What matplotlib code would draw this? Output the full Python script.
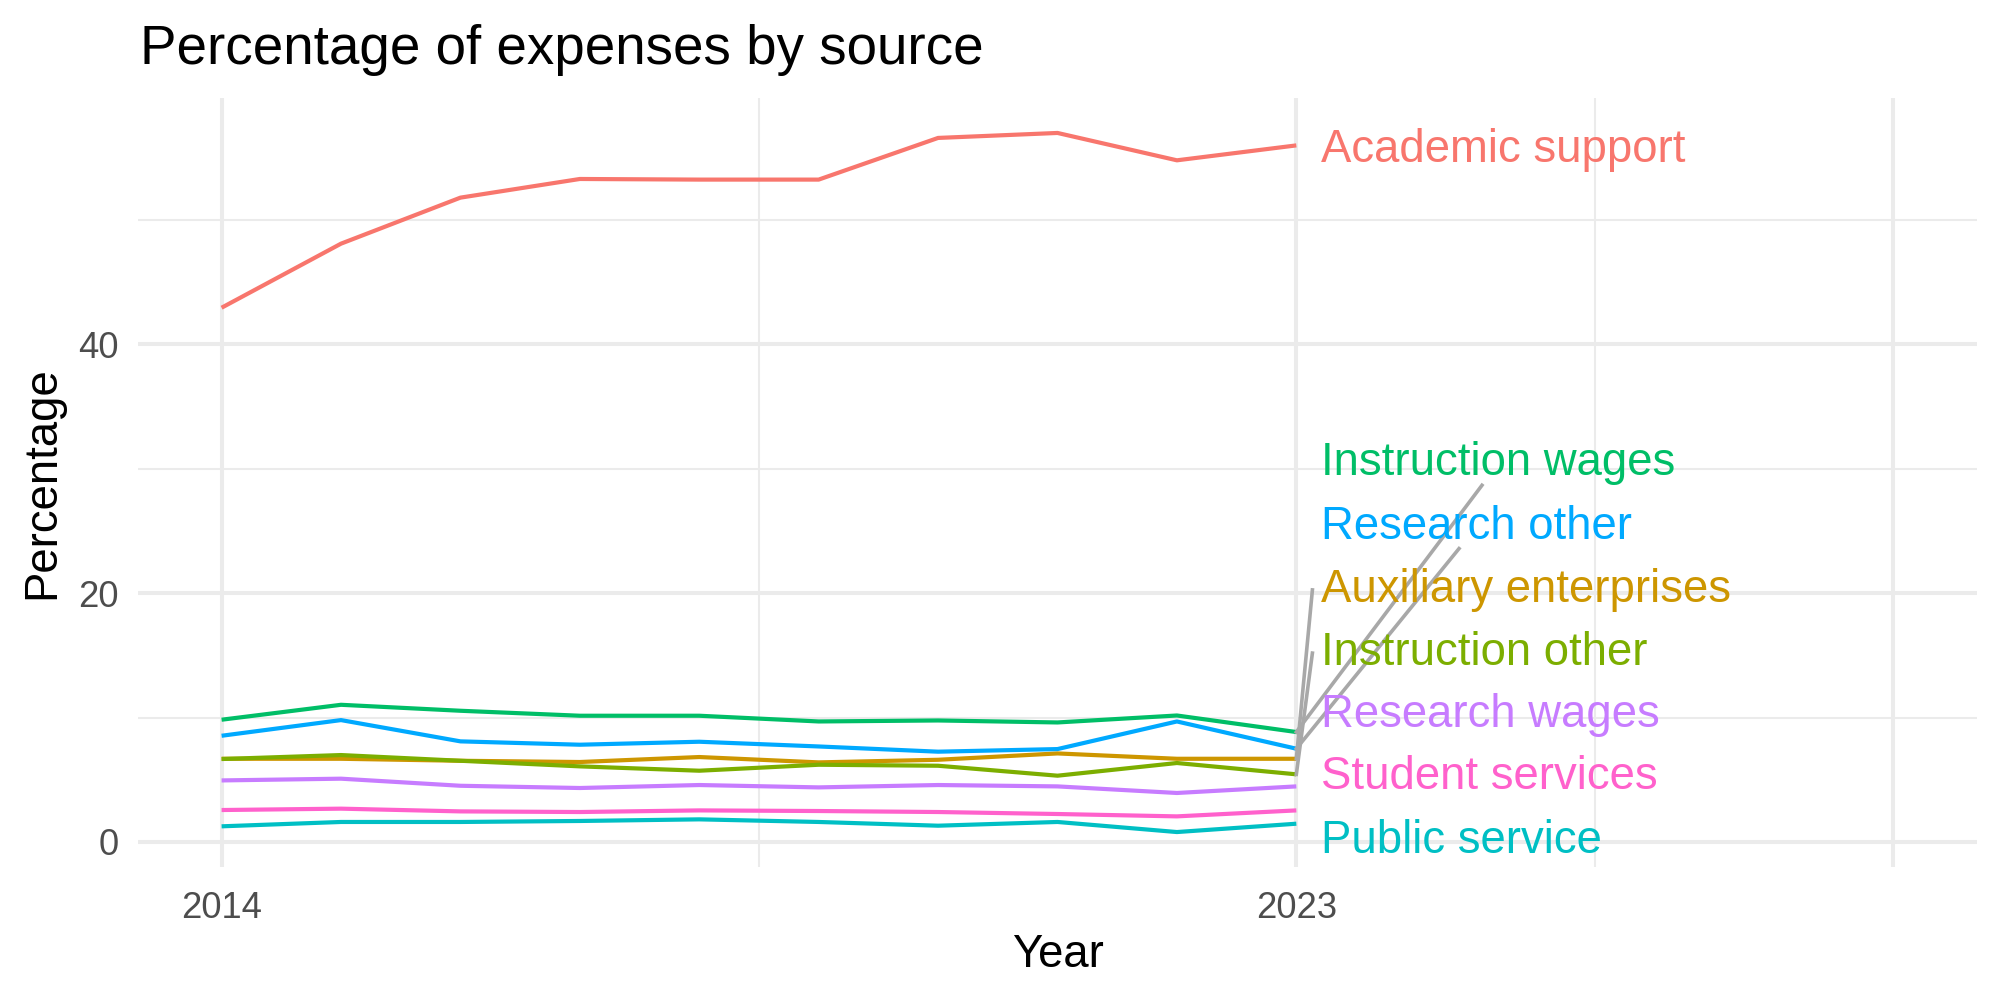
import matplotlib
matplotlib.use("Agg")
import matplotlib.pyplot as plt

plt.rcParams['font.family'] = ['Liberation Sans', 'DejaVu Sans']

# ---------------- data ----------------
years = [2014, 2015, 2016, 2017, 2018, 2019, 2020, 2021, 2022, 2023]
categories = ["Academic support", "Auxiliary enterprises", "Instruction other",
              "Instruction wages", "Public service", "Research other",
              "Research wages", "Student services"]
academic_support = [42.95, 48.1, 51.8, 53.3, 53.25, 53.25, 56.6, 57.0, 54.8, 56.0]
auxiliary_enterprises = [6.69, 6.69, 6.53, 6.43, 6.83, 6.40, 6.61, 7.12, 6.69, 6.69]
instruction_other = [6.67, 6.99, 6.53, 6.08, 5.73, 6.21, 6.13, 5.33, 6.35, 5.44]
instruction_wages = [9.83, 11.03, 10.55, 10.15, 10.15, 9.69, 9.77, 9.61, 10.17, 8.84]
public_service = [1.26, 1.61, 1.61, 1.69, 1.82, 1.61, 1.31, 1.61, 0.80, 1.47]
research_other = [8.54, 9.80, 8.09, 7.82, 8.06, 7.68, 7.26, 7.47, 9.69, 7.50]
research_wages = [4.95, 5.09, 4.52, 4.34, 4.58, 4.39, 4.58, 4.47, 3.94, 4.47]
student_services = [2.57, 2.68, 2.46, 2.41, 2.54, 2.49, 2.41, 2.25, 2.06, 2.54]
series = [academic_support, auxiliary_enterprises, instruction_other,
          instruction_wages, public_service, research_other,
          research_wages, student_services]

x_tick_values = [2014, 2023, 2028]
x_tick_labels = ["2014", "2023", ""]
x_minor_ticks = [2018.5, 2025.5]
y_tick_values = [0, 20, 40]
y_minor_ticks = [10, 30, 50]

# ---------------- layout / style ----------------
colors = ["#F8766D", "#CD9600", "#7CAE00", "#00BE67",
          "#00BFC4", "#00A9FF", "#C77CFF", "#FF61CC"]
# repelled label positions (baseline, in data units) and segment anchors
label_x = 2023.21
label_y = {"Academic support": 54.64, "Instruction wages": 29.48,
           "Research other": 24.39, "Auxiliary enterprises": 19.30,
           "Instruction other": 14.22, "Research wages": 9.26,
           "Student services": 4.23, "Public service": -0.86}
segment_anchor = {"Instruction wages": "bottom", "Research other": "bottom",
                  "Auxiliary enterprises": "left", "Instruction other": "left"}

fig = plt.figure(figsize=(10, 5), dpi=200)
ax = fig.add_axes([138 / 2000, 133 / 1000, (1977 - 138) / 2000, (867 - 98) / 1000])

# limits with ggplot-like 5% expansion
xmin, xmax = min(years), max(x_tick_values)
xr = xmax - xmin
ax.set_xlim(xmin - 0.05 * xr, xmax + 0.05 * xr)
all_vals = [v for s in series for v in s]
ymin, ymax = min(all_vals), max(all_vals)
yr = ymax - ymin
ax.set_ylim(ymin - 0.05 * yr, ymax + 0.05 * yr)

for sp in ax.spines.values():
    sp.set_visible(False)

grid_col = "#EBEBEB"
ax.set_xticks(x_tick_values)
ax.set_xticklabels(x_tick_labels)
ax.set_xticks(x_minor_ticks, minor=True)
ax.set_yticks(y_tick_values)
ax.set_yticks(y_minor_ticks, minor=True)
ax.grid(which="major", color=grid_col, lw=1.45, zorder=0)
ax.grid(which="minor", color=grid_col, lw=0.73, zorder=0)
ax.set_axisbelow(True)
ax.tick_params(which="both", length=0)
ax.tick_params(axis="x", labelsize=13.1, labelcolor="#4D4D4D", pad=8.5)
ax.tick_params(axis="y", labelsize=13.1, labelcolor="#4D4D4D", pad=7)

ax.set_xlabel("Year", fontsize=16.4, color="black", labelpad=2.5)
ax.set_ylabel("Percentage", fontsize=16.4, color="black", labelpad=5)
fig.text(140 / 2000, 1 - 64 / 1000, "Percentage of expenses by source",
         fontsize=19.7, color="black", ha="left", va="baseline")

for name, vals, col in zip(categories, series, colors):
    ax.plot(years, vals, color=col, lw=1.5, zorder=3, solid_capstyle="butt")

texts = {}
for name, vals, col in zip(categories, series, colors):
    texts[name] = ax.text(label_x, label_y[name], name, color=col, fontsize=16.4,
                          ha="left", va="baseline", zorder=5)

fig.canvas.draw()
renderer = fig.canvas.get_renderer()
inv = ax.transData.inverted()
padx = 9
for name, vals, col in zip(categories, series, colors):
    if name not in segment_anchor:
        continue
    bb = texts[name].get_window_extent(renderer)
    px, py = ax.transData.transform((years[-1], vals[-1]))
    if segment_anchor[name] == "left":
        ex, ey = bb.x0 - padx, (bb.y0 + bb.y1) / 2
    else:
        cx, cy = (bb.x0 + bb.x1) / 2, (bb.y0 + bb.y1) / 2
        ey = bb.y0
        ex = px + (cx - px) * (ey - py) / (cy - py)
    dx, dy = inv.transform((ex, ey))
    ax.plot([years[-1], dx], [vals[-1], dy], color="#A8A8A8", lw=1.3, zorder=4)

fig.savefig("out.png", dpi=200)
